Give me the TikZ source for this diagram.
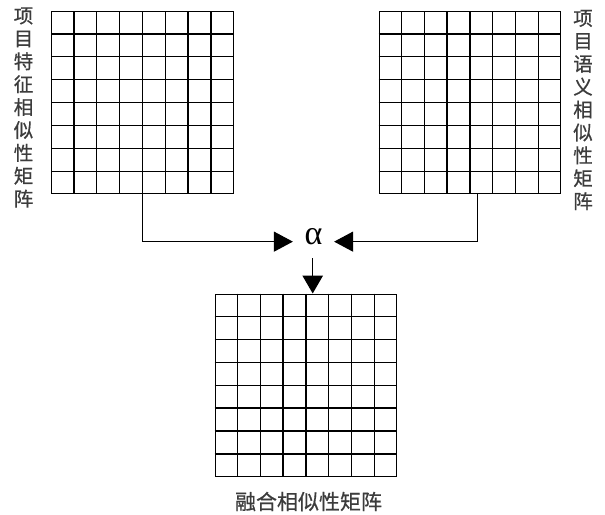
\documentclass[tikz,border=0pt]{standalone}
\usepackage{fontspec}
\newfontfamily\cjk{Noto Sans CJK SC}[FakeBold=0.6]
\newfontfamily\greekf{Liberation Serif}
\usetikzlibrary{arrows.meta,calc}
\definecolor{labelgray}{RGB}{60,60,60}
\tikzset{
  gridbox/.style={draw=black, line width=1.3pt, minimum width=181.5pt, minimum height=182pt, inner sep=0pt, anchor=north west},
  gridline/.style={draw=black, line width=1.3pt},
  vlabel/.style={align=center, inner sep=0pt, text=labelgray, font=\cjk\fontsize{19.5}{22.9}\selectfont},
  hlabel/.style={inner sep=0pt, text=labelgray, font=\cjk\fontsize{21}{24}\selectfont},
  conn/.style={draw=black, line width=1.2pt, -{Triangle[length=19pt,width=20pt]}},
  alphanode/.style={inner xsep=11.5pt, inner ysep=0pt, font=\greekf\fontsize{34}{36}\selectfont}
}
\begin{document}
\begin{tikzpicture}[x=1pt,y=-1pt]
\path[use as bounding box, fill=white] (0,0) rectangle (605,514);
% matrices
\node[gridbox] (lg) at (51,11) {};
\node[gridbox] (rg) at (378.5,11) {};
\node[gridbox] (fg) at (214.5,293.5) {};
\foreach \g in {lg,rg,fg}{
  \foreach \i in {1,...,7}{
    \draw[gridline] ($(\g.north west)!\i/8!(\g.north east)$) -- ($(\g.south west)!\i/8!(\g.south east)$);
    \draw[gridline] ($(\g.north west)!\i/8!(\g.south west)$) -- ($(\g.north east)!\i/8!(\g.south east)$);
  }
}
% labels
\node[vlabel] (lt) at (23.5,107.5) {项\\目\\特\\征\\相\\似\\性\\矩\\阵};
\node[vlabel] (rt) at (583,110) {项\\目\\语\\义\\相\\似\\性\\矩\\阵};
\node[hlabel] (bt) at (308.5,501.5) {融合相似性矩阵};
% alpha
\node[alphanode, anchor=base] (alpha) at (313.5,244) {α};
\coordinate (ain) at (313.5,258.3);
% connectors
\draw[conn] (lg.south) |- ([yshift=-5.5pt]alpha.west);
\draw[conn] ([xshift=7.2pt]rg.south) |- ([yshift=-5.5pt]alpha.east);
\draw[conn, -{Triangle[length=18pt,width=20.5pt]}] (ain -| 312.7,0) -- (312.7,0 |- fg.north);
\end{tikzpicture}
\end{document}
